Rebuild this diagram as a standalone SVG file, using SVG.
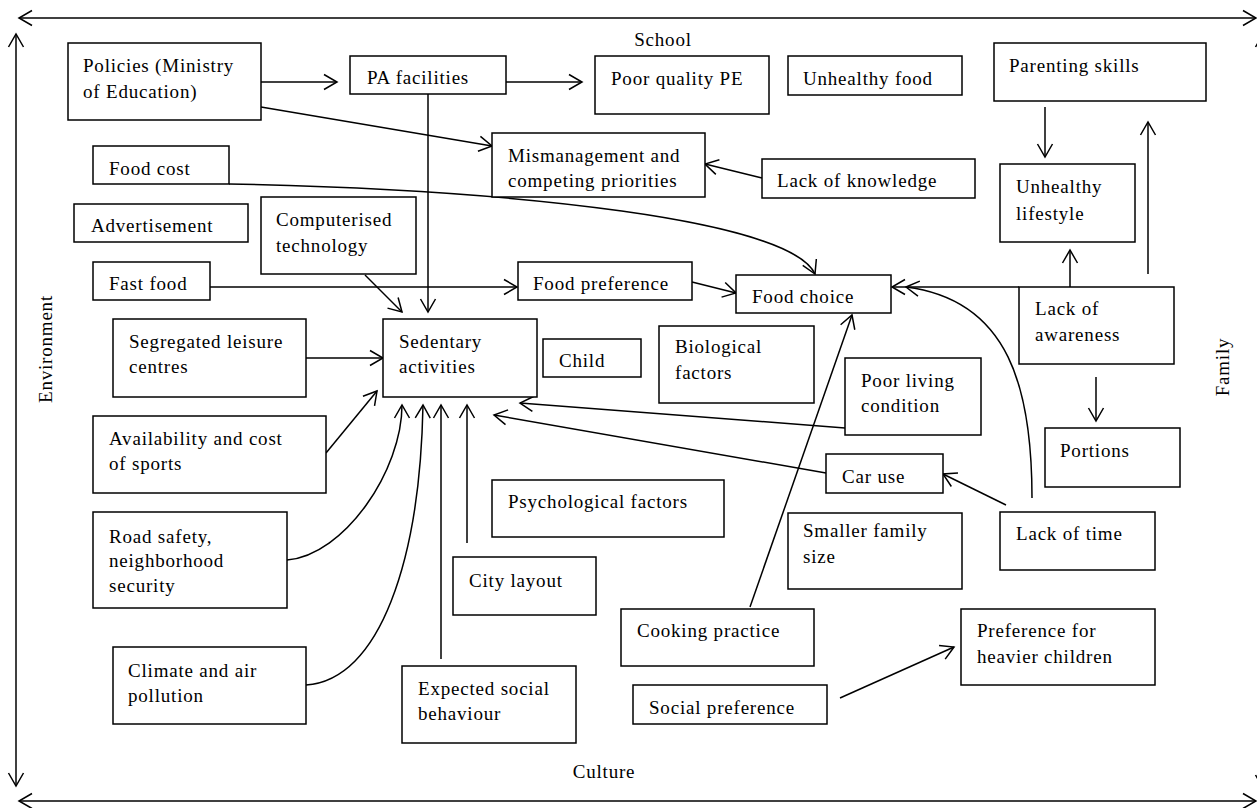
<svg xmlns="http://www.w3.org/2000/svg" width="1257" height="808" viewBox="0 0 1257 808">
<style>
.b{fill:#fff;stroke:#000;stroke-width:1.5}
text{font-family:"Liberation Serif","Times New Roman",serif;font-size:19px;letter-spacing:0.8px;fill:#000}
.c{fill:none;stroke:#000;stroke-width:1.5}
.a{marker-end:url(#ah)}
.s{marker-start:url(#ah)}
</style>
<defs>
<marker id="ah" markerUnits="userSpaceOnUse" markerWidth="16" markerHeight="18" viewBox="0 0 16 18" refX="14" refY="9" orient="auto-start-reverse">
<path d="M1,1.5 L14,9 L1,16.5" fill="none" stroke="#000" stroke-width="1.5"/>
</marker>
</defs>
<rect width="1257" height="808" fill="#fff"/>

<g id="frame">
<line class="c s a" x1="19" y1="18" x2="1256" y2="18"/>
<line class="c s a" x1="19" y1="801" x2="1256" y2="801"/>
<line class="c s a" x1="16" y1="34" x2="16" y2="786"/>
<line class="c s a" x1="1263" y1="34" x2="1263" y2="788"/>
<text x="663" y="46" text-anchor="middle">School</text>
<text x="604" y="778" text-anchor="middle">Culture</text>
<text transform="translate(52,349) rotate(-90)" text-anchor="middle">Environment</text>
<text transform="translate(1229,367) rotate(-90)" text-anchor="middle">Family</text>
</g>

<g id="connectors">
<line class="c a" x1="261" y1="82" x2="337" y2="82"/>
<line class="c a" x1="506" y1="82" x2="582" y2="82"/>
<line class="c a" x1="261" y1="107" x2="492" y2="146"/>
<line class="c a" x1="428" y1="94" x2="428" y2="312"/>
<line class="c a" x1="762" y1="178" x2="705" y2="164"/>
<path class="c a" d="M229,184 C520,190 790,220 815,274"/>
<line class="c a" x1="210" y1="287" x2="517" y2="287"/>
<line class="c a" x1="365" y1="275" x2="402" y2="312"/>
<line class="c a" x1="692" y1="282" x2="736" y2="293"/>
<line class="c a" x1="1019" y1="287" x2="892" y2="287"/>
<path class="c a" d="M1032,498 C1032,390 1010,300 906,287"/>
<line class="c a" x1="1070" y1="287" x2="1070" y2="250"/>
<line class="c a" x1="1148" y1="274" x2="1148" y2="122"/>
<line class="c a" x1="1045" y1="107" x2="1045" y2="157"/>
<line class="c a" x1="1096" y1="377" x2="1096" y2="421"/>
<line class="c a" x1="1006" y1="505" x2="943" y2="474"/>
<line class="c a" x1="826" y1="473" x2="494" y2="415"/>
<line class="c a" x1="845" y1="428" x2="520" y2="403"/>
<line class="c a" x1="750" y1="607" x2="852" y2="315"/>
<line class="c a" x1="306" y1="358" x2="383" y2="358"/>
<line class="c a" x1="326" y1="453" x2="377" y2="391"/>
<path class="c a" d="M287,560 C345,555 402,470 402,405"/>
<path class="c a" d="M306,685 C380,680 420,560 423,405"/>
<line class="c a" x1="441" y1="659" x2="441" y2="405"/>
<line class="c a" x1="467" y1="543" x2="467" y2="405"/>
<line class="c a" x1="840" y1="698" x2="954" y2="647"/>
</g>

<g id="policies"><rect class="b" x="68" y="43" width="193" height="77"/><text x="83" y="72">Policies (Ministry</text><text x="83" y="98">of Education)</text></g>
<g id="pa-facilities"><rect class="b" x="350" y="56" width="156" height="38"/><text x="367" y="84">PA facilities</text></g>
<g id="poor-quality-pe"><rect class="b" x="595" y="56" width="174" height="58"/><text x="611" y="85">Poor quality PE</text></g>
<g id="unhealthy-food"><rect class="b" x="788" y="56" width="174" height="39"/><text x="803" y="85">Unhealthy food</text></g>
<g id="parenting-skills"><rect class="b" x="994" y="43" width="212" height="58"/><text x="1009" y="72">Parenting skills</text></g>
<g id="mismanagement"><rect class="b" x="492" y="133" width="213" height="64"/><text x="508" y="162">Mismanagement and</text><text x="508" y="187">competing priorities</text></g>
<g id="lack-of-knowledge"><rect class="b" x="762" y="159" width="213" height="39"/><text x="777" y="187">Lack of knowledge</text></g>
<g id="unhealthy-lifestyle"><rect class="b" x="1000" y="164" width="135" height="78"/><text x="1016" y="193">Unhealthy</text><text x="1016" y="220">lifestyle</text></g>
<g id="food-cost"><rect class="b" x="93" y="146" width="136" height="38"/><text x="109" y="175">Food cost</text></g>
<g id="advertisement"><rect class="b" x="74" y="204" width="174" height="38"/><text x="91" y="232">Advertisement</text></g>
<g id="computerised-technology"><rect class="b" x="261" y="197" width="155" height="77"/><text x="276" y="226">Computerised</text><text x="276" y="252">technology</text></g>
<g id="fast-food"><rect class="b" x="93" y="262" width="117" height="38"/><text x="109" y="290">Fast food</text></g>
<g id="food-preference"><rect class="b" x="518" y="262" width="174" height="38"/><text x="533" y="290">Food preference</text></g>
<g id="food-choice"><rect class="b" x="736" y="275" width="155" height="38"/><text x="752" y="303">Food choice</text></g>
<g id="lack-of-awareness"><rect class="b" x="1019" y="287" width="155" height="77"/><text x="1035" y="315">Lack of</text><text x="1035" y="341">awareness</text></g>
<g id="segregated-leisure"><rect class="b" x="113" y="319" width="193" height="78"/><text x="129" y="348">Segregated leisure</text><text x="129" y="373">centres</text></g>
<g id="sedentary-activities"><rect class="b" x="383" y="319" width="154" height="78"/><text x="399" y="348">Sedentary</text><text x="399" y="373">activities</text></g>
<g id="child"><rect class="b" x="543" y="339" width="98" height="38"/><text x="559" y="367">Child</text></g>
<g id="biological-factors"><rect class="b" x="659" y="326" width="155" height="77"/><text x="675" y="353">Biological</text><text x="675" y="379">factors</text></g>
<g id="poor-living-condition"><rect class="b" x="845" y="358" width="136" height="77"/><text x="861" y="387">Poor living</text><text x="861" y="412">condition</text></g>
<g id="portions"><rect class="b" x="1045" y="428" width="135" height="59"/><text x="1060" y="457">Portions</text></g>
<g id="car-use"><rect class="b" x="826" y="454" width="117" height="39"/><text x="842" y="483">Car use</text></g>
<g id="availability-cost-sports"><rect class="b" x="93" y="416" width="233" height="77"/><text x="109" y="445">Availability and cost</text><text x="109" y="470">of sports</text></g>
<g id="psychological-factors"><rect class="b" x="492" y="480" width="232" height="57"/><text x="508" y="508">Psychological factors</text></g>
<g id="smaller-family-size"><rect class="b" x="788" y="513" width="174" height="76"/><text x="803" y="537">Smaller family</text><text x="803" y="563">size</text></g>
<g id="lack-of-time"><rect class="b" x="1000" y="512" width="155" height="58"/><text x="1016" y="540">Lack of time</text></g>
<g id="road-safety"><rect class="b" x="93" y="512" width="194" height="96"/><text x="109" y="543">Road safety,</text><text x="109" y="567">neighborhood</text><text x="109" y="592">security</text></g>
<g id="city-layout"><rect class="b" x="453" y="557" width="143" height="58"/><text x="469" y="587">City layout</text></g>
<g id="cooking-practice"><rect class="b" x="621" y="609" width="193" height="57"/><text x="637" y="637">Cooking practice</text></g>
<g id="climate-air-pollution"><rect class="b" x="113" y="647" width="193" height="77"/><text x="128" y="677">Climate and air</text><text x="128" y="702">pollution</text></g>
<g id="expected-social-behaviour"><rect class="b" x="402" y="666" width="174" height="77"/><text x="418" y="695">Expected social</text><text x="418" y="720">behaviour</text></g>
<g id="social-preference"><rect class="b" x="633" y="685" width="194" height="39"/><text x="649" y="714">Social preference</text></g>
<g id="preference-heavier-children"><rect class="b" x="961" y="609" width="194" height="76"/><text x="977" y="637">Preference for</text><text x="977" y="663">heavier children</text></g>
</svg>
